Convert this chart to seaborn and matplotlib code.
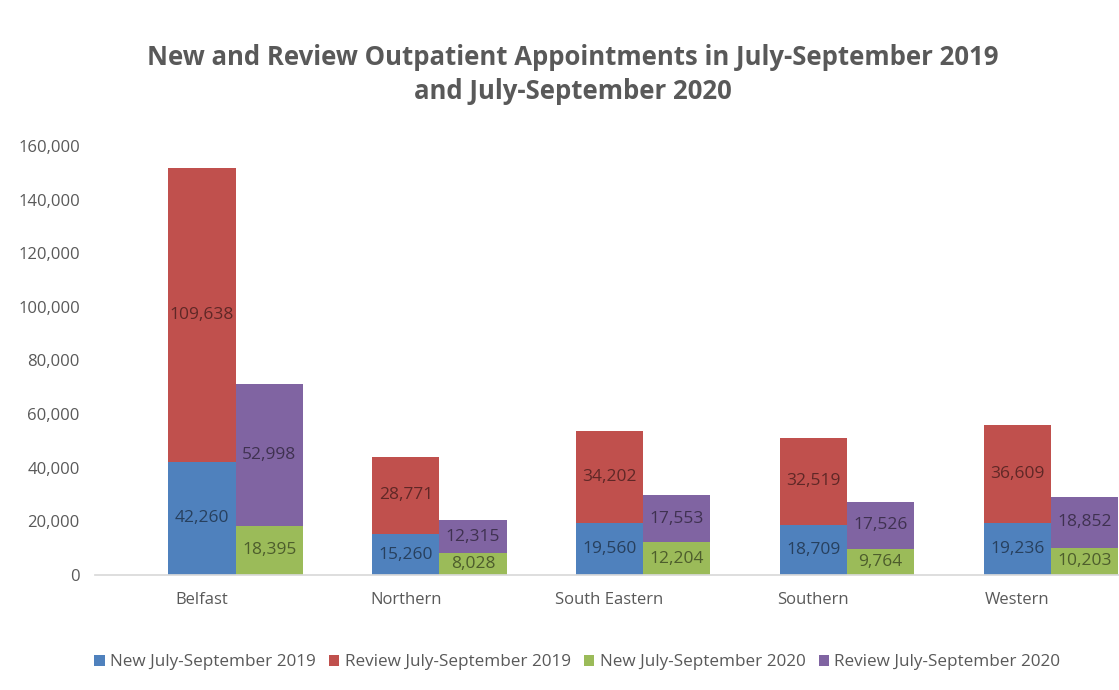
import matplotlib
matplotlib.use("Agg")
import matplotlib.pyplot as plt
import seaborn as sns
import pandas as pd
import numpy as np
from matplotlib.patches import Patch

regions = ["Belfast", "Northern", "South Eastern", "Southern", "Western"]
new_2019 = [42260, 15260, 19560, 18709, 19236]
review_2019 = [109638, 28771, 34202, 32519, 36609]
new_2020 = [18395, 8028, 12204, 9764, 10203]
review_2020 = [52998, 12315, 17553, 17526, 18852]
series_names = ["New July-September 2019", "Review July-September 2019",
                "New July-September 2020", "Review July-September 2020"]
yticks = [0, 20000, 40000, 60000, 80000, 100000, 120000, 140000, 160000]

c_blue, c_red, c_green, c_purple = "#4F81BD", "#C0504D", "#9BBB59", "#8064A2"

sns.set_theme(style="white")
plt.rcParams["font.family"] = ["Open Sans", "DejaVu Sans"]

df_total = pd.DataFrame({
    "region": regions * 2,
    "year": ["2019"] * 5 + ["2020"] * 5,
    "value": [n + r for n, r in zip(new_2019, review_2019)] + [n + r for n, r in zip(new_2020, review_2020)],
})
df_new = pd.DataFrame({
    "region": regions * 2,
    "year": ["2019"] * 5 + ["2020"] * 5,
    "value": new_2019 + new_2020,
})

fig = plt.figure(figsize=(11.19, 6.9), dpi=100)
ax = fig.add_axes([0.085, 0.1667, 0.915, 0.6217])

sns.barplot(data=df_total, x="region", y="value", hue="year", order=regions,
            palette=[c_red, c_purple], dodge=True, width=0.66, ax=ax,
            saturation=1, legend=False, errorbar=None, linewidth=0)
sns.barplot(data=df_new, x="region", y="value", hue="year", order=regions,
            palette=[c_blue, c_green], dodge=True, width=0.66, ax=ax,
            saturation=1, legend=False, errorbar=None, linewidth=0)

off = 0.165
x = np.arange(len(regions))
label_kw = dict(ha="center", va="center", fontsize=12.5, color="black", alpha=0.5)
for i in range(len(regions)):
    ax.text(x[i] - off, new_2019[i] / 2, f"{new_2019[i]:,}", **label_kw)
    ax.text(x[i] - off, new_2019[i] + review_2019[i] / 2, f"{review_2019[i]:,}", **label_kw)
    ax.text(x[i] + off, new_2020[i] / 2, f"{new_2020[i]:,}", **label_kw)
    ax.text(x[i] + off, new_2020[i] + review_2020[i] / 2, f"{review_2020[i]:,}", **label_kw)

ax.set_ylim(0, 160000)
ax.set_xlim(-0.69, 4.335)
ax.set_yticks(yticks)
ax.set_yticklabels([f"{v:,}" for v in yticks])
ax.set_xticks(x - off)
ax.set_xticklabels(regions)
ax.tick_params(axis="both", colors="#595959", labelsize=12, length=0)
ax.tick_params(axis="x", pad=12)
ax.tick_params(axis="y", pad=11)
ax.set_xlabel("")
ax.set_ylabel("")
for s in ["top", "right", "left"]:
    ax.spines[s].set_visible(False)
ax.spines["bottom"].set_color("#D9D9D9")

fig.text(0.512, 0.892, "New and Review Outpatient Appointments in July-September 2019\nand July-September 2020",
         ha="center", va="center", fontsize=18.5, fontweight="bold", color="#595959", linespacing=1.35)

handles = [Patch(facecolor=c, edgecolor="none") for c in [c_blue, c_red, c_green, c_purple]]
fig.legend(handles, series_names, loc="center", bbox_to_anchor=(0.516, 0.04), ncol=4, frameon=False,
           fontsize=12.3, handlelength=0.6, handleheight=0.6, handletextpad=0.3, columnspacing=0.8,
           labelcolor="#595959")

fig.savefig("out.png", dpi=100)
